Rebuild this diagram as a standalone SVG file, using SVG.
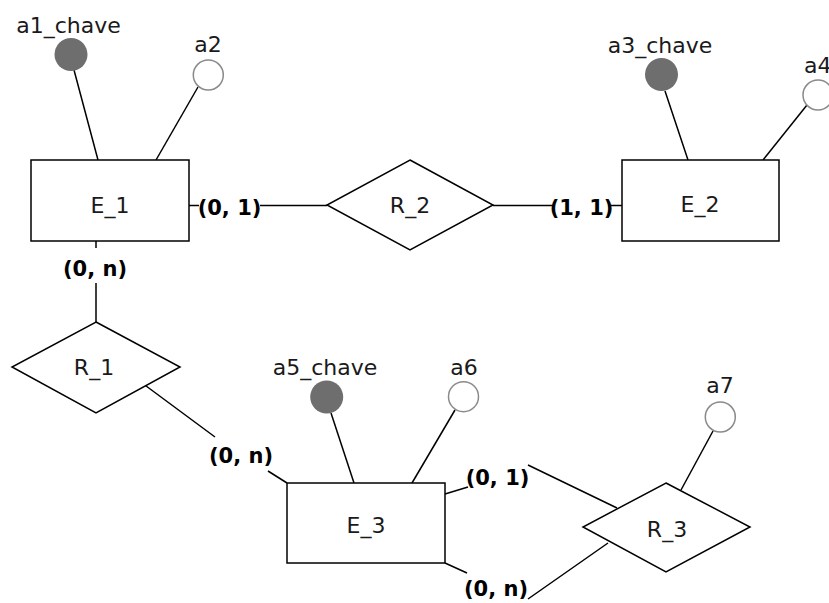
<svg xmlns="http://www.w3.org/2000/svg" width="829" height="603" viewBox="0 0 829 603">
<style>
.bg{fill:#ffffff}
.shape{fill:#ffffff;stroke:#000000;stroke-width:1.5}
.key{fill:#6e6e6e;stroke:none}
.attr{fill:#ffffff;stroke:#8a8a8a;stroke-width:1.5}
.lbl{font-family:"DejaVu Sans","Open Sans",sans-serif;font-size:22px;fill:#1a1a1a;text-anchor:middle}
.card{font-family:"DejaVu Sans","Open Sans",sans-serif;font-size:21px;font-weight:bold;fill:#000000;text-anchor:middle}
.conn{fill:none;stroke:#000000;stroke-width:1.5}
</style>
<rect class="bg" x="0" y="0" width="829" height="603"/>
<g id="connectors">
  <path class="conn" d="M189,205.5 H199 M260,205.5 H327"/>
  <path class="conn" d="M493,205.5 H555 M610,205.5 H622"/>
  <path class="conn" d="M96,241 V248 M96,283 V322"/>
  <path class="conn" d="M138,380 L215,437 M268,471 L287,483"/>
  <path class="conn" d="M445,494 L468,487 M528,465 L617,508"/>
  <path class="conn" d="M445,563 L467,573 M528,599 L608,543"/>
  <path class="conn" d="M74,70 L98,160"/>
  <path class="conn" d="M198,87 L156,160"/>
  <path class="conn" d="M665,91 L688,160"/>
  <path class="conn" d="M807,105 L763,160"/>
  <path class="conn" d="M331,413 L354,483"/>
  <path class="conn" d="M455,410 L412,483"/>
  <path class="conn" d="M713,431 L681,490"/>
  <text class="card" x="229.5" y="215">(0, 1)</text>
  <text class="card" x="581.5" y="215">(1, 1)</text>
  <text class="card" x="95" y="276">(0, n)</text>
  <text class="card" x="241" y="463">(0, n)</text>
  <text class="card" x="497.5" y="485">(0, 1)</text>
  <text class="card" x="496" y="596">(0, n)</text>
</g>
<g id="E_1">
  <rect class="shape" x="31" y="160" width="158" height="81"/>
  <text class="lbl" x="110" y="213">E_1</text>
</g>
<g id="E_2">
  <rect class="shape" x="622" y="160" width="157" height="81"/>
  <text class="lbl" x="700" y="212">E_2</text>
</g>
<g id="E_3">
  <rect class="shape" x="287" y="483" width="158" height="80"/>
  <text class="lbl" x="366" y="533">E_3</text>
</g>
<g id="R_1">
  <polygon class="shape" points="96,322 180,367 96,413 12,367"/>
  <text class="lbl" x="94" y="375">R_1</text>
</g>
<g id="R_2">
  <polygon class="shape" points="410,160 493,205 410,250 327,205"/>
  <text class="lbl" x="410" y="213">R_2</text>
</g>
<g id="R_3">
  <polygon class="shape" points="666,483 750,527 666,572 583,527"/>
  <text class="lbl" x="667" y="537">R_3</text>
</g>
<g id="a1_chave">
  <circle class="key" cx="71" cy="54.5" r="16.5"/>
  <text class="lbl" x="68.5" y="33">a1_chave</text>
</g>
<g id="a2">
  <circle class="attr" cx="208.3" cy="75" r="15"/>
  <text class="lbl" x="208" y="52">a2</text>
</g>
<g id="a3_chave">
  <circle class="key" cx="661.5" cy="74.5" r="16.5"/>
  <text class="lbl" x="660" y="53">a3_chave</text>
</g>
<g id="a4">
  <circle class="attr" cx="818" cy="95" r="15"/>
  <text class="lbl" x="804" y="73" style="text-anchor:start">a4</text>
</g>
<g id="a5_chave">
  <circle class="key" cx="326.7" cy="397" r="16.5"/>
  <text class="lbl" x="325" y="375">a5_chave</text>
</g>
<g id="a6">
  <circle class="attr" cx="463.5" cy="396.7" r="15"/>
  <text class="lbl" x="464" y="375">a6</text>
</g>
<g id="a7">
  <circle class="attr" cx="720.3" cy="417" r="15"/>
  <text class="lbl" x="720" y="393">a7</text>
</g>
</svg>
